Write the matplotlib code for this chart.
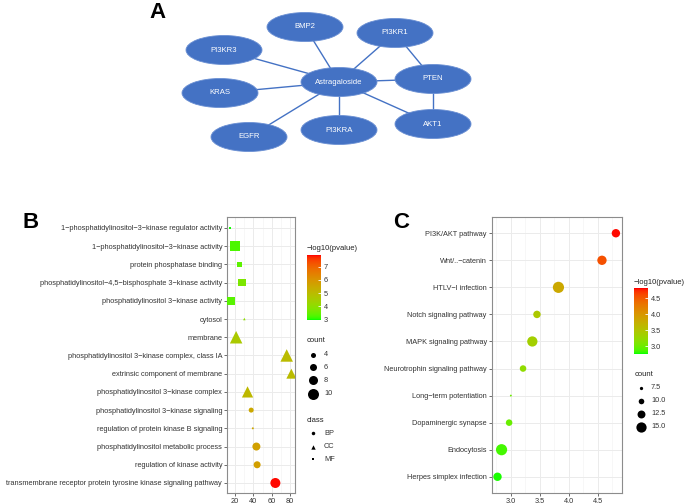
import numpy as np
import matplotlib
matplotlib.use('Agg')
import matplotlib.pyplot as plt
from matplotlib.patches import Ellipse
from matplotlib.colors import ListedColormap, Normalize
from matplotlib.cm import ScalarMappable

plt.rcParams['font.family'] = ['Liberation Sans', 'DejaVu Sans']

M = u'\u2212'

# ---- panel A: network (node centres in pixels of the 685x504 canvas)
net_nodes = ['BMP2', 'PI3KR1', 'PI3KR3', 'Astragaloside', 'PTEN', 'KRAS', 'EGFR', 'PI3KRA', 'AKT1']
net_x = [305, 395, 224, 339, 433, 220, 249, 339, 433]
net_y = [27, 33, 50, 82, 79, 93, 137, 130, 124]
net_edges = [('Astragaloside', 'BMP2'), ('Astragaloside', 'PI3KR1'), ('Astragaloside', 'PI3KR3'),
             ('Astragaloside', 'KRAS'), ('Astragaloside', 'EGFR'), ('Astragaloside', 'PI3KRA'),
             ('Astragaloside', 'PTEN'), ('Astragaloside', 'AKT1'), ('PI3KR1', 'PTEN'), ('PTEN', 'AKT1')]

# ---- panel B: GO terms (top to bottom)
go_terms = ['1' + M + 'phosphatidylinositol' + M + '3' + M + 'kinase regulator activity',
            '1' + M + 'phosphatidylinositol' + M + '3' + M + 'kinase activity',
            'protein phosphatase binding',
            'phosphatidylinositol' + M + '4,5' + M + 'bisphosphate 3' + M + 'kinase activity',
            'phosphatidylinositol 3' + M + 'kinase activity',
            'cytosol',
            'membrane',
            'phosphatidylinositol 3' + M + 'kinase complex, class IA',
            'extrinsic component of membrane',
            'phosphatidylinositol 3' + M + 'kinase complex',
            'phosphatidylinositol 3' + M + 'kinase signaling',
            'regulation of protein kinase B signaling',
            'phosphatidylinositol metabolic process',
            'regulation of kinase activity',
            'transmembrane receptor protein tyrosine kinase signaling pathway']
go_x = [14.5, 19.7, 24.4, 27.6, 15.3, 30.0, 21.0, 76.4, 81.5, 33.5, 37.5, 39.3, 43.2, 44.0, 64.0]
go_logp = [3.0, 3.25, 3.4, 3.75, 3.35, 4.0, 4.6, 5.0, 5.0, 5.1, 5.5, 5.55, 5.7, 5.75, 7.85]
go_count = [1, 10, 5, 8, 8, 1, 9, 9, 7, 8, 4, 1, 7, 6, 9]
go_class = ['MF', 'MF', 'MF', 'MF', 'MF', 'CC', 'CC', 'CC', 'CC', 'CC', 'BP', 'BP', 'BP', 'BP', 'BP']
go_xticks = [20, 40, 60, 80]
go_color_ticks = [3, 4, 5, 6, 7]
go_count_breaks = [4, 6, 8, 10]
class_names = ['BP', 'CC', 'MF']

# ---- panel C: KEGG pathways (top to bottom)
kegg_terms = ['PI3K/AKT pathway', 'Wnt/..' + M + 'catenin', 'HTLV' + M + 'I infection',
              'Notch signaling pathway', 'MAPK signaling pathway', 'Neurotrophin signaling pathway',
              'Long' + M + 'term potentiation', 'Dopaminergic synapse', 'Endocytosis',
              'Herpes simplex infection']
kegg_logp = [4.81, 4.57, 3.82, 3.45, 3.37, 3.21, 3.0, 2.97, 2.84, 2.77]
kegg_count = [13, 14, 16, 12, 15, 11, 6, 11, 16, 13]
kegg_xticks = [3.0, 3.5, 4.0, 4.5]
kegg_color_ticks = [3.0, 3.5, 4.0, 4.5]
kegg_count_breaks = [7.5, 10.0, 12.5, 15.0]

markers = {'BP': 'o', 'CC': '^', 'MF': 's'}
shape_k = {'o': 1.0, '^': 1.25, 's': 0.85}
FS = 5.35


# ggplot-like green -> red gradient interpolated in Lab space
WHITE = np.array([0.95047, 1.0, 1.08883])
MAT = np.array([[0.4124, 0.3576, 0.1805], [0.2126, 0.7152, 0.0722], [0.0193, 0.1192, 0.9505]])


def to_lab(rgb):
    c = np.asarray(rgb, float)
    lin = np.where(c <= 0.04045, c / 12.92, ((c + 0.055) / 1.055) ** 2.4)
    xyz = MAT @ lin / WHITE
    f = np.where(xyz > 0.008856, np.cbrt(xyz), 7.787 * xyz + 16 / 116)
    return np.array([116 * f[1] - 16, 500 * (f[0] - f[1]), 200 * (f[1] - f[2])])


def from_lab(lab):
    L, a, b = lab[:, 0], lab[:, 1], lab[:, 2]
    fy = (L + 16) / 116
    f = np.stack([fy + a / 500, fy, fy - b / 200], axis=1)
    xyz = np.where(f ** 3 > 0.008856, f ** 3, (f - 16 / 116) / 7.787) * WHITE
    lin = np.clip(xyz @ np.linalg.inv(MAT).T, 0, 1)
    srgb = np.where(lin <= 0.0031308, 12.92 * lin, 1.055 * lin ** (1 / 2.4) - 0.055)
    return np.clip(srgb, 0, 1)


t = np.linspace(0, 1, 256)[:, None]
lab = to_lab([0, 1, 0]) * (1 - t) + to_lab([1, 0, 0]) * t
cmap = ListedColormap(from_lab(lab))


def msize(count, a, b, marker='o'):
    d = (a + b * np.asarray(count, float)) * shape_k[marker]  # diameter in px
    return (d * 0.72) ** 2


def style_axes(ax):
    ax.set_axisbelow(True)
    ax.grid(which='major', color='#EBEBEB', lw=0.7)
    ax.grid(which='minor', color='#F4F4F4', lw=0.5)
    for s in ax.spines.values():
        s.set_color('#8c8c8c')
        s.set_linewidth(0.8)
    ax.tick_params(which='major', labelsize=FS, length=2, width=0.5, color='#333333', labelcolor='#333333', pad=1.5)
    ax.tick_params(which='minor', length=0)


def colorbar(fig, rect, vmin, vmax, ticks, fmt):
    cax = fig.add_axes(rect)
    cb = fig.colorbar(ScalarMappable(norm=Normalize(vmin, vmax), cmap=cmap), cax=cax)
    cb.outline.set_visible(False)
    cb.set_ticks(ticks)
    cb.set_ticklabels([fmt % v for v in ticks])
    cax.tick_params(labelsize=FS, length=2.5, width=0.6, color='white', direction='in', pad=2, labelcolor='#333333')


fig = plt.figure(figsize=(6.85, 5.04), dpi=100)
ov = fig.add_axes([0, 0, 1, 1])
ov.set_xlim(0, 685)
ov.set_ylim(504, 0)
ov.axis('off')

# panel A
pos = {n: (x, y) for n, x, y in zip(net_nodes, net_x, net_y)}
for a, b in net_edges:
    ov.plot([pos[a][0], pos[b][0]], [pos[a][1], pos[b][1]], color='#4472C4', lw=1.0, zorder=1)
for n, x, y in zip(net_nodes, net_x, net_y):
    ov.add_patch(Ellipse((x, y), 76, 29, facecolor='#4472C4', edgecolor='#6A8FD3', lw=0.6, zorder=2))
    ov.text(x, y, n, color='white', fontsize=5.6, ha='center', va='center', zorder=3)

ov.text(158, 12, 'A', fontsize=16, fontweight='bold', ha='center', va='center')
ov.text(31, 222, 'B', fontsize=16, fontweight='bold', ha='center', va='center')
ov.text(401, 223, 'C', fontsize=16, fontweight='bold', ha='center', va='center')

# panel B
n = len(go_terms)
yb = np.arange(n, 0, -1)
axb = fig.add_axes([227 / 685, 11 / 504, 68 / 685, 276 / 504])
norm_b = Normalize(2.98, 7.88)
for cls in class_names:
    idx = [i for i, c in enumerate(go_class) if c == cls]
    mk = markers[cls]
    axb.scatter([go_x[i] for i in idx], yb[idx], s=msize([go_count[i] for i in idx], 1.0, 1.0, mk),
                c=[go_logp[i] for i in idx], cmap=cmap, norm=norm_b, marker=mk, linewidths=0, zorder=3)
axb.set_xlim(11, 85.5)
axb.set_ylim(0.45, n + 0.6)
axb.set_xticks(go_xticks)
axb.set_xticks([30, 50, 70], minor=True)
axb.set_yticks(yb)
axb.set_yticklabels(go_terms)
style_axes(axb)

colorbar(fig, [307 / 685, (504 - 320) / 504, 13.7 / 685, 65 / 504], 2.98, 7.88, go_color_ticks, '%d')
ov.text(307, 249, M + 'log10(pvalue)', fontsize=5.5, ha='left', va='center', color='#222222')
ov.text(307, 341, 'count', fontsize=5.5, ha='left', va='center', color='#222222')
for v, y in zip(go_count_breaks, [355, 367.3, 380, 393.7]):
    ov.scatter(313.3, y, s=msize(v, 1.0, 1.0), color='black', linewidths=0)
    ov.text(324, y, '%d' % v, fontsize=FS, ha='left', va='center', color='#333333')
ov.text(307, 421, 'class', fontsize=5.5, ha='left', va='center', color='#222222')
for cls, y in zip(class_names, [433.3, 446.7, 459.3]):
    ov.scatter(313.3, y, s=msize(2.5, 1.0, 1.0, markers[cls]), marker=markers[cls], color='black', linewidths=0)
    ov.text(324, y, cls, fontsize=FS, ha='left', va='center', color='#333333')

# panel C
m = len(kegg_terms)
yc = np.arange(m, 0, -1)
axc = fig.add_axes([491.7 / 685, 11 / 504, 130 / 685, 276 / 504])
axc.scatter(kegg_logp, yc, s=msize(kegg_count, -3.7, 0.93), c=kegg_logp, cmap=cmap,
            norm=Normalize(2.75, 4.82), linewidths=0, zorder=3)
axc.set_xlim(2.67, 4.91)
axc.set_ylim(0.4, m + 0.6)
axc.set_xticks(kegg_xticks)
axc.set_xticklabels(['%.1f' % v for v in kegg_xticks])
axc.set_xticks([2.75, 3.25, 3.75, 4.25, 4.75], minor=True)
axc.set_yticks(yc)
axc.set_yticklabels(kegg_terms)
style_axes(axc)

colorbar(fig, [634 / 685, (504 - 354) / 504, 13.7 / 685, 65.7 / 504], 2.75, 4.82, kegg_color_ticks, '%.1f')
ov.text(634, 282, M + 'log10(pvalue)', fontsize=5.5, ha='left', va='center', color='#222222')
ov.text(635, 374, 'count', fontsize=5.5, ha='left', va='center', color='#222222')
for v, y in zip(kegg_count_breaks, [387.7, 400.7, 413.7, 426.7]):
    ov.scatter(640.7, y, s=msize(v, -3.7, 0.93), color='black', linewidths=0)
    ov.text(651, y, '%.1f' % v, fontsize=FS, ha='left', va='center', color='#333333')

fig.savefig('out.png', dpi=100)
